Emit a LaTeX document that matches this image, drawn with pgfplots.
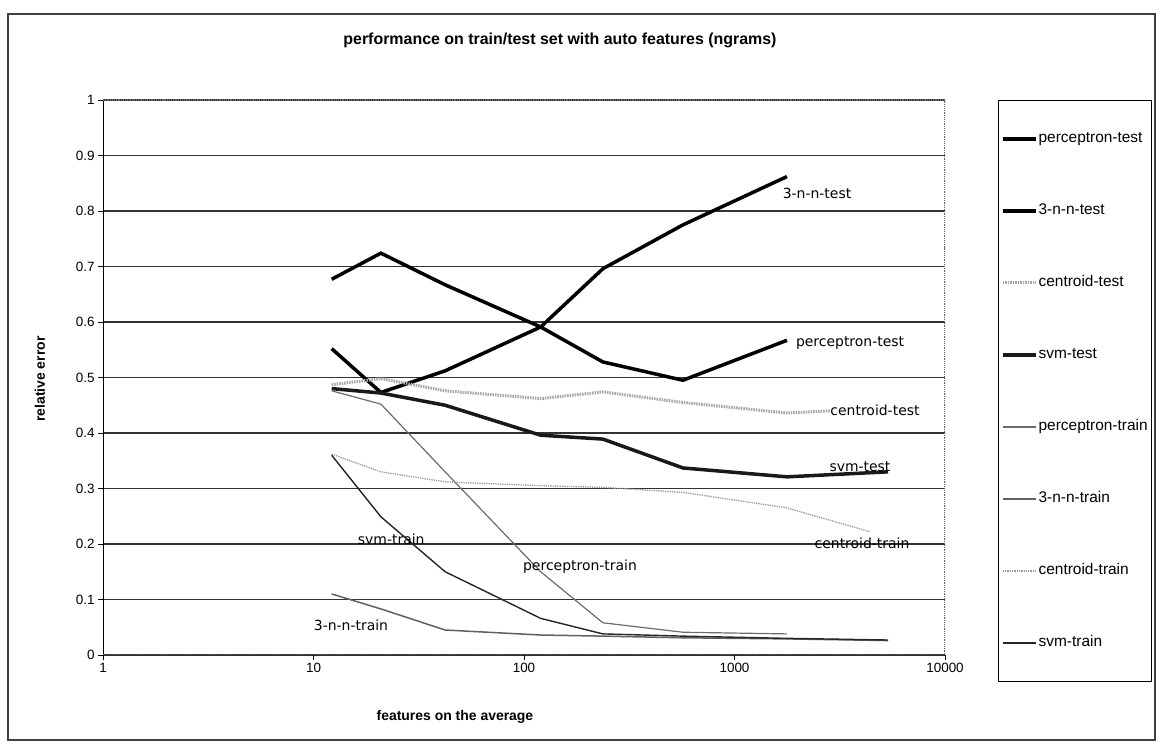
\documentclass[border=0pt]{standalone}
\usepackage{fontspec}
\setmainfont{Liberation Sans}
\newfontfamily\labfont{DejaVu Sans}
\usepackage{pgfplots}
\pgfplotsset{compat=1.18}
\begin{document}
\begin{tikzpicture}[x=1bp,y=1bp]
\path (0,0) rectangle (1160,747);
\draw[line width=1.2bp, black!75] (8,7) rectangle (1155,733);
\node[font=\bfseries\fontsize{16}{18}\selectfont] at (560,707) {performance on train/test set with auto features (ngrams)};
\begin{axis}[
  at={(103bp,92bp)}, anchor=south west, scale only axis,
  width=842bp, height=555bp,
  xmode=log, xmin=1, xmax=10000, ymin=0, ymax=1,
  xtick={1,10,100,1000,10000}, xticklabels={1,10,100,1000,10000},
  xminorticks=false,
  ytick={0,0.1,0.2,0.3,0.4,0.5,0.6,0.7,0.8,0.9,1},
  yticklabels={0,0.1,0.2,0.3,0.4,0.5,0.6,0.7,0.8,0.9,1},
  xtick pos=bottom, ytick pos=left, tick align=outside,
  major tick length=5bp, tick style={black, line width=0.8bp},
  ymajorgrids, grid style={black!80, line width=1.1bp},
  axis line style={draw=none},
  ticklabel style={font=\fontsize{13.5}{15}\selectfont},
  xlabel={\bfseries features on the average},
  ylabel={\bfseries relative error},
  label style={font=\fontsize{14}{16}\selectfont},
  xlabel style={at={(axis description cs:0.418,-0.112)}, anchor=center},
  ylabel style={at={(axis description cs:-0.075,0.497)}, anchor=center},
  legend style={at={(axis description cs:1.0625,1.0)}, anchor=north west,
    draw=black, line width=1bp, font=\fontsize{15.5}{17}\selectfont,
    row sep=56bp, inner xsep=3bp, inner ysep=30.5bp,
    nodes={text height=11bp, text depth=3bp, inner xsep=1bp, inner ysep=1bp}},
  legend cell align=left,
  legend image code/.code={\draw[#1] (0bp,0bp) -- (33bp,0bp);},
]
\addplot[black, line width=3.5bp] coordinates {(12.2,0.677) (20.9,0.724) (42.2,0.667) (120,0.591) (237,0.528) (569,0.495) (1775,0.567)};
\addlegendentry{perceptron-test}
\addplot[black, line width=3.5bp] coordinates {(12.2,0.552) (20.9,0.473) (42.2,0.512) (120,0.591) (237,0.696) (569,0.775) (1775,0.862)};
\addlegendentry{3-n-n-test}
\addplot[gray!70, line width=3bp, dash pattern=on 1.5bp off 1bp] coordinates {(12.2,0.487) (20.9,0.498) (42.2,0.476) (120,0.462) (237,0.474) (569,0.455) (1775,0.436) (2843,0.44)};
\addlegendentry{centroid-test}
\addplot[black!90, line width=3.5bp] coordinates {(12.2,0.48) (20.9,0.472) (42.2,0.45) (120,0.396) (237,0.389) (569,0.337) (1775,0.321) (5360,0.33)};
\addlegendentry{svm-test}
\addplot[gray!85!black, line width=1.2bp] coordinates {(12.2,0.476) (20.9,0.452) (42.2,0.33) (120,0.15) (237,0.058) (569,0.041) (1775,0.038)};
\addlegendentry{perceptron-train}
\addplot[gray!75!black, line width=1.5bp] coordinates {(12.2,0.11) (20.9,0.083) (42.2,0.045) (120,0.036) (237,0.034) (569,0.031) (1775,0.029) (5360,0.026)};
\addlegendentry{3-n-n-train}
\addplot[gray!80, line width=1.3bp, densely dotted] coordinates {(12.2,0.362) (20.9,0.33) (42.2,0.312) (120,0.305) (237,0.302) (569,0.293) (1775,0.265) (4405,0.222)};
\addlegendentry{centroid-train}
\addplot[black!85, line width=1.4bp] coordinates {(12.2,0.36) (20.9,0.249) (42.2,0.15) (120,0.066) (237,0.038) (569,0.034) (1775,0.03) (5360,0.027)};
\addlegendentry{svm-train}
\draw[black, line width=1.3bp] (rel axis cs:0,0) -- (rel axis cs:0,1);
\draw[black!70, line width=1.2bp, densely dotted] (rel axis cs:0,0) -- (rel axis cs:1,0);
\draw[black!60, line width=1.2bp, densely dotted] (rel axis cs:0,1) -- (rel axis cs:1,1) -- (rel axis cs:1,0);
\begin{scope}[every node/.style={font=\labfont\fontsize{14}{16}\selectfont, inner sep=0pt}]
\node at (axis cs:2466,0.832) {3-n-n-test};
\node at (axis cs:3540,0.562) {perceptron-test};
\node at (axis cs:4650,0.441) {centroid-test};
\node at (axis cs:3945,0.339) {svm-test};
\node at (axis cs:4035,0.202) {centroid-train};
\node at (axis cs:23.4,0.209) {svm-train};
\node at (axis cs:184.5,0.160) {perceptron-train};
\node at (axis cs:15.07,0.054) {3-n-n-train};
\end{scope}
\end{axis}
\end{tikzpicture}
\end{document}
